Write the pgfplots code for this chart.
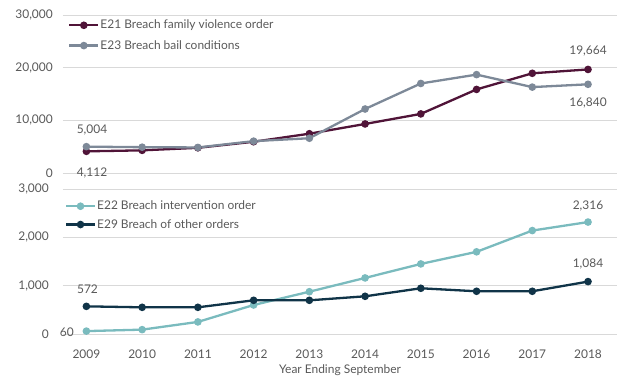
\documentclass[border=0pt]{standalone}
\usepackage{fontspec}
\setmainfont{Lato}
\usepackage{pgfplots}
\pgfplotsset{compat=1.18}
\definecolor{cA}{RGB}{80,20,56}
\definecolor{cB}{RGB}{125,137,152}
\definecolor{cC}{RGB}{122,187,190}
\definecolor{cD}{RGB}{16,52,72}
\definecolor{txt}{RGB}{89,89,89}
\definecolor{gridc}{RGB}{217,217,217}
\newcommand{\fs}{\fontsize{12}{14}\selectfont}
\pgfplotsset{
  base/.style={
    scale only axis, width=554bp, xmin=-0.42, xmax=9.52,
    axis line style={draw=none}, major tick length=0pt,
    ymajorgrids, grid style={gridc, line width=0.8bp},
    tick label style={font=\fs, text=txt},
    y tick label style={inner sep=0pt, xshift=-10bp},
    /pgf/number format/assume math mode=true,
    /pgf/number format/1000 sep={,},
    scaled y ticks=false, clip=false,
    legend cell align=left,
    legend style={draw=none, fill=none, font=\fs, text=txt, inner sep=0pt,
      nodes={inner sep=1bp}, anchor=north west},
    legend image code/.code={\draw[mark repeat=2,mark phase=2,##1] plot coordinates {(0bp,0bp) (14.5bp,0bp) (29bp,0bp)};},
    every axis plot/.append style={line width=2.3bp, mark=*, mark size=2.6bp},
  }
}
\begin{document}
\begin{tikzpicture}
\useasboundingbox (-63bp,-46bp) rectangle (568bp,334bp);
% top panel
\begin{axis}[base, at={(0bp,161bp)}, anchor=south west, height=158bp,
  ymin=0, ymax=30000, ytick={0,10000,20000,30000}, xtick=\empty,
  legend style={at={(rel axis cs:0.009,0.975)}, row sep=8bp}]
\addplot[cA, mark options={fill=cA}] coordinates {(0,4112) (1,4300) (2,4780) (3,5930) (4,7460) (5,9310) (6,11220) (7,15870) (8,18930) (9,19664)};
\addlegendentry{E21 Breach family violence order}
\addplot[cB, mark options={fill=cB}] coordinates {(0,5004) (1,4900) (2,4850) (3,6050) (4,6600) (5,12150) (6,17000) (7,18680) (8,16310) (9,16840)};
\addlegendentry{E23 Breach bail conditions}
\node[font=\fs, text=txt] at (axis cs:0.1,8150) {5,004};
\node[font=\fs, text=txt] at (axis cs:0.1,0) {4,112};
\node[font=\fs, text=txt] at (axis cs:9,23250) {19,664};
\node[font=\fs, text=txt] at (axis cs:9,13300) {16,840};
\end{axis}
% bottom panel
\begin{axis}[base, at={(0bp,0bp)}, anchor=south west, height=145bp,
  ymin=0, ymax=3000, ytick={0,1000,2000,3000},
  y tick label style={xshift=-4bp},
  xtick={0,...,9}, xticklabels={2009,2010,2011,2012,2013,2014,2015,2016,2017,2018},
  x tick label style={inner sep=0pt, yshift=-16bp},
  xlabel={Year Ending September}, xlabel style={font=\fs, text=txt, inner sep=0pt, yshift=-6bp},
  legend style={at={(rel axis cs:0.003,0.925)}, row sep=6bp}]
\addplot[cC, mark options={fill=cC}] coordinates {(0,60) (1,90) (2,250) (3,600) (4,875) (5,1160) (6,1450) (7,1700) (8,2140) (9,2316)};
\addlegendentry{E22 Breach intervention order}
\addplot[cD, mark options={fill=cD}] coordinates {(0,572) (1,552) (2,552) (3,697) (4,697) (5,780) (6,946) (7,884) (8,884) (9,1084)};
\addlegendentry{E29 Breach of other orders}
\node[font=\fs, text=txt] at (axis cs:0.02,935) {572};
\node[font=\fs, text=txt] at (axis cs:-0.35,40) {60};
\node[font=\fs, text=txt] at (axis cs:9,2650) {2,316};
\node[font=\fs, text=txt] at (axis cs:9,1450) {1,084};
\end{axis}
\end{tikzpicture}
\end{document}
